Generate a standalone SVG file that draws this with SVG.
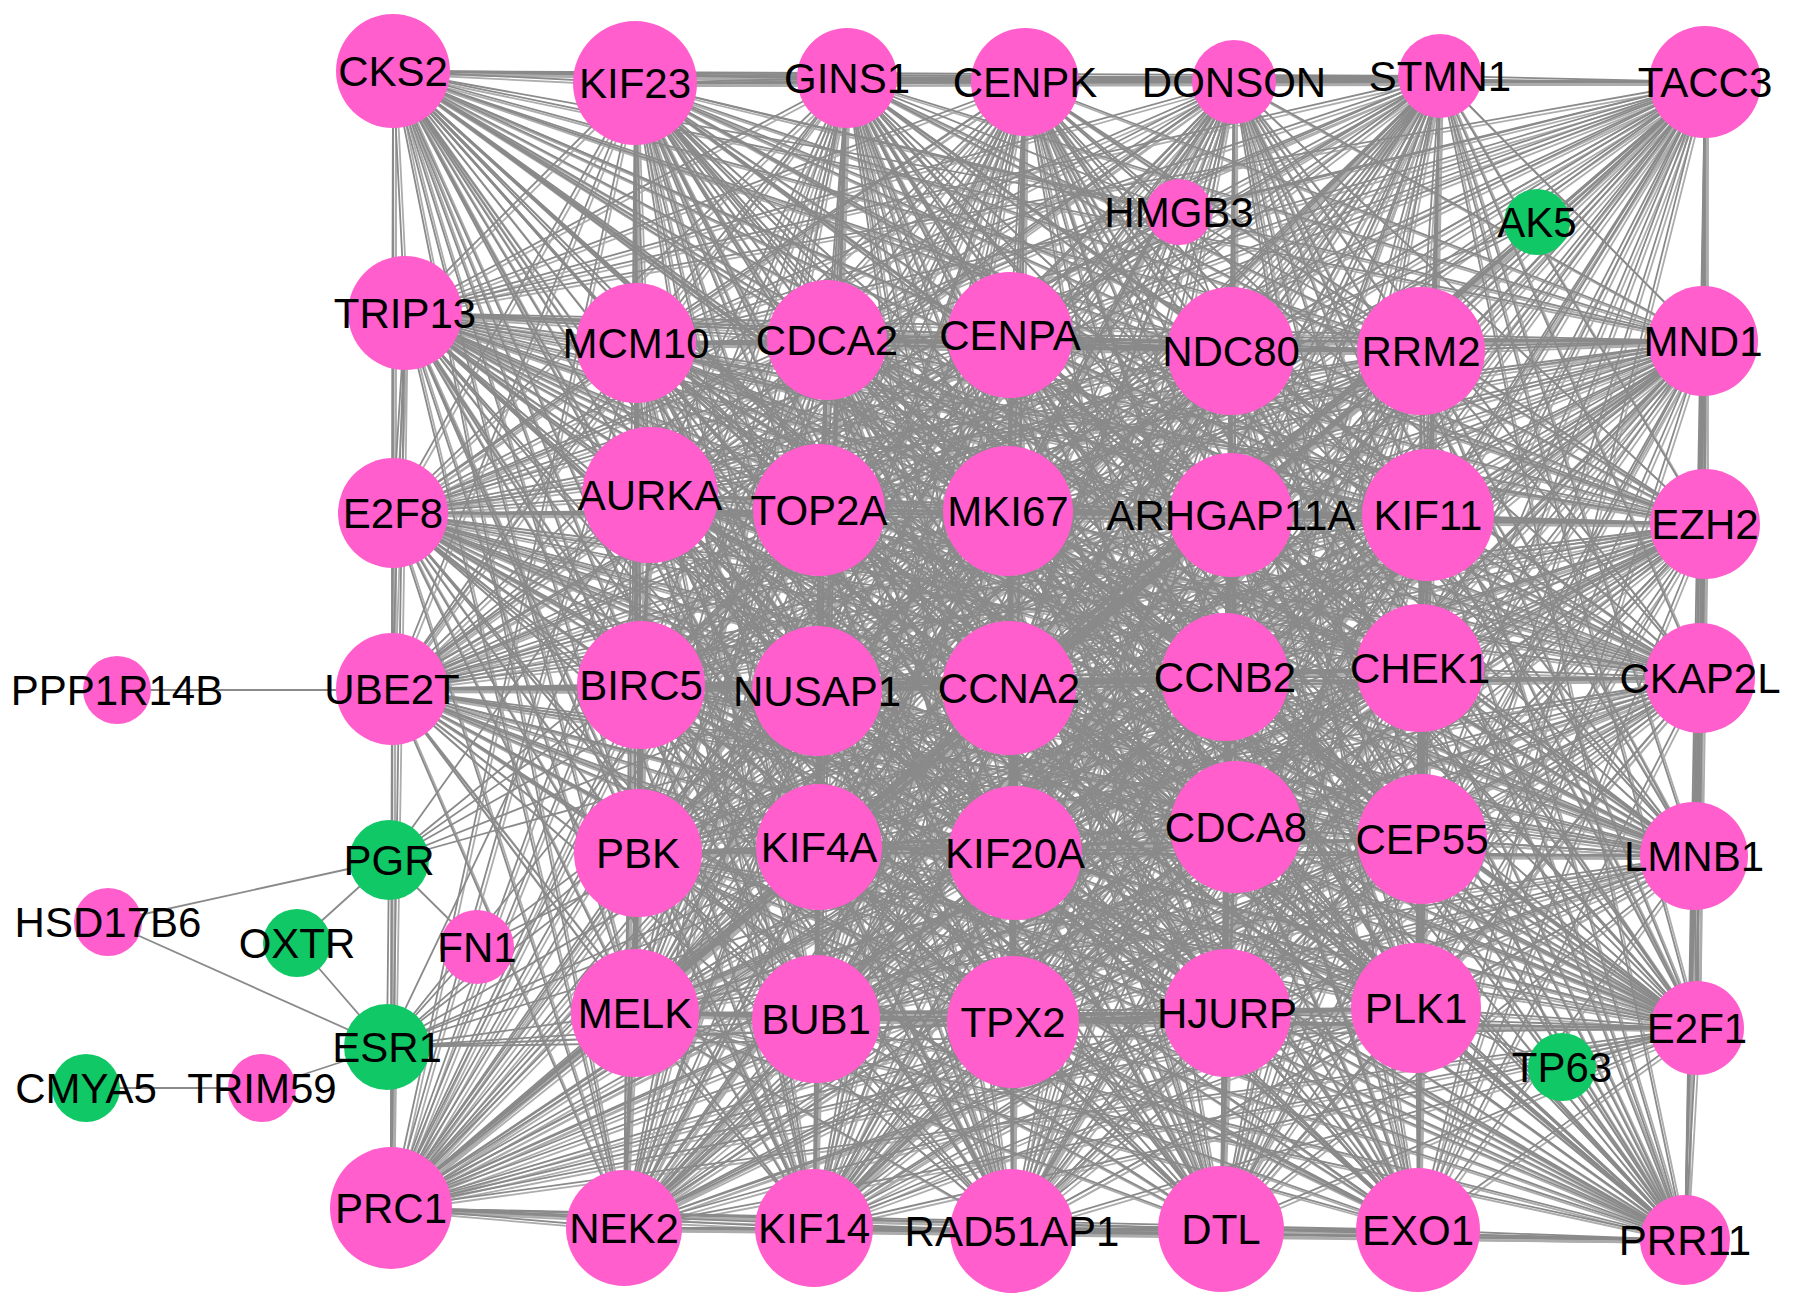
<svg xmlns="http://www.w3.org/2000/svg" width="1795" height="1307" viewBox="0 0 1795 1307">
<style>
.e{fill:none;stroke:#8a8a8a;stroke-width:1.8;stroke-linejoin:round}
.p{fill:#ff5ecc}
.g{fill:#10c866}
text{font-family:"Liberation Sans",Arial,sans-serif;font-size:42px;fill:#000;text-anchor:middle}
</style>
<rect width="1795" height="1307" fill="#fff"/>
<g id="connectors" class="e">
<g id="core-edges">
<path d="M393,71 635,83 847,78 1025,82 1234,82 1440,76 1705,82 405,313 636,343 827,340 1010,335 1231,351 1421,351 1703,341 393,513 650,495 819,510 1008,511 1231,515 1428,515 1705,524 392,689 641,685 817,691 1009,688 1225,677 1420,668 1700,678 638,853 819,847 1015,853 1236,827 1422,839 1694,856 635,1013 816,1019 1013,1022 1227,1013 1416,1008 1697,1028 391,1208 624,1228 814,1228 1012,1231 1221,1229 1418,1230 1685,1240Z"/>
<path d="M393,71 847,78 1234,82 1705,82 636,343 1010,335 1421,351 393,513 819,510 1231,515 1705,524 641,685 1009,688 1420,668 638,853 1015,853 1422,839 635,1013 1013,1022 1416,1008 391,1208 814,1228 1221,1229 1685,1240 635,83 1025,82 1440,76 405,313 827,340 1231,351 1703,341 650,495 1008,511 1428,515 392,689 817,691 1225,677 1700,678 819,847 1236,827 1694,856 816,1019 1227,1013 1697,1028 624,1228 1012,1231 1418,1230Z"/>
<path d="M393,71 1025,82 1705,82 827,340 1421,351 650,495 1231,515 392,689 1009,688 1700,678 1015,853 1694,856 1013,1022 1697,1028 814,1228 1418,1230 635,83 1234,82 405,313 1010,335 1703,341 819,510 1428,515 641,685 1225,677 638,853 1236,827 635,1013 1227,1013 391,1208 1012,1231 1685,1240 847,78 1440,76 636,343 1231,351 393,513 1008,511 1705,524 817,691 1420,668 819,847 1422,839 816,1019 1416,1008 624,1228 1221,1229Z"/>
<path d="M393,71 1234,82 636,343 1421,351 819,510 1705,524 1009,688 638,853 1422,839 1013,1022 391,1208 1221,1229 635,83 1440,76 827,340 1703,341 1008,511 392,689 1225,677 819,847 1694,856 1227,1013 624,1228 1418,1230 847,78 1705,82 1010,335 393,513 1231,515 641,685 1420,668 1015,853 635,1013 1416,1008 814,1228 1685,1240 1025,82 405,313 1231,351 650,495 1428,515 817,691 1700,678 1236,827 816,1019 1697,1028 1012,1231Z"/>
<path d="M393,71 1440,76 1010,335 650,495 1705,524 1225,677 1015,853 816,1019 391,1208 1418,1230 1025,82 636,343 1703,341 1231,515 817,691 638,853 1694,856 1416,1008 1012,1231 635,83 1705,82 1231,351 819,510 392,689 1420,668 1236,827 1013,1022 624,1228 1685,1240 1234,82 827,340 393,513 1428,515 1009,688 819,847 635,1013 1697,1028 1221,1229 847,78 405,313 1421,351 1008,511 641,685 1700,678 1422,839 1227,1013 814,1228Z"/>
<path d="M393,71 1705,82 1421,351 1231,515 1009,688 1015,853 1013,1022 814,1228 635,83 405,313 1703,341 1428,515 1225,677 1236,827 1227,1013 1012,1231 847,78 636,343 393,513 1705,524 1420,668 1422,839 1416,1008 1221,1229 1025,82 827,340 650,495 392,689 1700,678 1694,856 1697,1028 1418,1230 1234,82 1010,335 819,510 641,685 638,853 635,1013 391,1208 1685,1240 1440,76 1231,351 1008,511 817,691 819,847 816,1019 624,1228Z"/>
<path d="M393,71 405,313 393,513 392,689 638,853 816,1019 814,1228 847,78 827,340 819,510 817,691 1015,853 1227,1013 1221,1229 1234,82 1231,351 1231,515 1225,677 1422,839 1697,1028 1685,1240 1705,82 1703,341 1705,524 1700,678 635,1013 624,1228 635,83 636,343 650,495 641,685 819,847 1013,1022 1012,1231 1025,82 1010,335 1008,511 1009,688 1236,827 1416,1008 1418,1230 1440,76 1421,351 1428,515 1420,668 1694,856 391,1208Z"/>
<path d="M393,71 636,343 819,510 1009,688 1422,839 391,1208 635,83 827,340 1008,511 1225,677 1694,856 624,1228 847,78 1010,335 1231,515 1420,668 635,1013 814,1228 1025,82 1231,351 1428,515 1700,678 816,1019 1012,1231 1234,82 1421,351 1705,524 638,853 1013,1022 1221,1229 1440,76 1703,341 392,689 819,847 1227,1013 1418,1230 1705,82 393,513 641,685 1015,853 1416,1008 1685,1240 405,313 650,495 817,691 1236,827 1697,1028Z"/>
<path d="M393,71 827,340 1231,515 1700,678 1013,1022 1418,1230 405,313 819,510 1225,677 635,1013 1012,1231 1440,76 393,513 817,691 1422,839 624,1228 1025,82 1421,351 392,689 1015,853 1697,1028 635,83 1010,335 1428,515 638,853 1227,1013 1685,1240 636,343 1008,511 1420,668 816,1019 1221,1229 1705,82 650,495 1009,688 1694,856 814,1228 1234,82 1703,341 641,685 1236,827 391,1208 847,78 1231,351 1705,524 819,847 1416,1008Z"/>
<path d="M393,71 1010,335 1705,524 1015,853 391,1208 1025,82 1703,341 817,691 1694,856 1012,1231 1705,82 819,510 1420,668 1013,1022 1685,1240 827,340 1428,515 819,847 1697,1028 847,78 1421,351 641,685 1422,839 814,1228 1440,76 650,495 1225,677 816,1019 1418,1230 636,343 1231,515 638,853 1416,1008 635,83 1231,351 392,689 1236,827 624,1228 1234,82 393,513 1009,688 635,1013 1221,1229 405,313 1008,511 1700,678 1227,1013Z"/>
<path d="M393,71 1231,351 641,685 1694,856 1221,1229 636,343 1428,515 1015,853 624,1228 1440,76 819,510 1700,678 1416,1008 847,78 1703,341 1009,688 816,1019 1685,1240 1010,335 392,689 1422,839 1012,1231 405,313 1231,515 819,847 391,1208 1234,82 650,495 1420,668 1227,1013 635,83 1421,351 817,691 635,1013 1418,1230 827,340 1705,524 1236,827 814,1228 1705,82 1008,511 638,853 1697,1028 1025,82 393,513 1225,677 1013,1022Z"/>
<path d="M393,71 1421,351 1009,688 1013,1022 635,83 1703,341 1225,677 1227,1013 847,78 393,513 1420,668 1416,1008 1025,82 650,495 1700,678 1697,1028 1234,82 819,510 638,853 391,1208 1440,76 1008,511 819,847 624,1228 1705,82 1231,515 1015,853 814,1228 405,313 1428,515 1236,827 1012,1231 636,343 1705,524 1422,839 1221,1229 827,340 392,689 1694,856 1418,1230 1010,335 641,685 635,1013 1685,1240 1231,351 817,691 816,1019Z"/>
<path d="M393,71 1703,341 1420,668 1697,1028 1440,76 1231,515 1236,827 1221,1229 1010,335 817,691 1013,1022 847,78 650,495 638,853 624,1228 405,313 1705,524 1694,856 1685,1240 1421,351 1225,677 1416,1008 1234,82 1008,511 1015,853 1012,1231 827,340 641,685 816,1019 635,83 393,513 1700,678 391,1208 1705,82 1428,515 1422,839 1418,1230 1231,351 1009,688 1227,1013 1025,82 819,510 819,847 814,1228 636,343 392,689 635,1013Z"/>
<path d="M393,71 393,513 638,853 814,1228 827,340 817,691 1227,1013 1234,82 1231,515 1422,839 1685,1240 1703,341 1700,678 624,1228 636,343 641,685 1013,1022 1025,82 1008,511 1236,827 1418,1230 1421,351 1420,668 391,1208 405,313 392,689 816,1019 847,78 819,510 1015,853 1221,1229 1231,351 1225,677 1697,1028 1705,82 1705,524 635,1013 635,83 650,495 819,847 1012,1231 1010,335 1009,688 1416,1008 1440,76 1428,515 1694,856Z"/>
<path d="M393,71 650,495 1015,853 1418,1230 1703,341 638,853 1012,1231 1231,351 1420,668 624,1228 827,340 1009,688 1697,1028 405,313 641,685 1227,1013 1440,76 1705,524 816,1019 1025,82 1231,515 1694,856 635,83 819,510 1236,827 1685,1240 393,513 819,847 1221,1229 1421,351 1700,678 814,1228 1010,335 1225,677 391,1208 636,343 817,691 1416,1008 1705,82 392,689 1013,1022 1234,82 1428,515 635,1013 847,78 1008,511 1422,839Z"/>
<path d="M393,71 819,510 1422,839 635,83 1008,511 1694,856 847,78 1231,515 635,1013 1025,82 1428,515 816,1019 1234,82 1705,524 1013,1022 1440,76 392,689 1227,1013 1705,82 641,685 1416,1008 405,313 817,691 1697,1028 636,343 1009,688 391,1208 827,340 1225,677 624,1228 1010,335 1420,668 814,1228 1231,351 1700,678 1012,1231 1421,351 638,853 1221,1229 1703,341 819,847 1418,1230 393,513 1015,853 1685,1240 650,495 1236,827Z"/>
<path d="M393,71 1008,511 635,1013 1234,82 392,689 1416,1008 636,343 1225,677 814,1228 1421,351 819,847 1685,1240 819,510 1694,856 1025,82 1705,524 1227,1013 405,313 1009,688 624,1228 1231,351 638,853 1418,1230 650,495 1422,839 847,78 1428,515 1013,1022 1705,82 817,691 391,1208 1010,335 1700,678 1221,1229 393,513 1236,827 635,83 1231,515 816,1019 1440,76 641,685 1697,1028 827,340 1420,668 1012,1231 1703,341 1015,853Z"/>
<path d="M393,71 1231,515 1013,1022 405,313 1225,677 1012,1231 393,513 1422,839 1025,82 392,689 1697,1028 1010,335 638,853 1685,1240 1008,511 816,1019 1705,82 1009,688 814,1228 1703,341 1236,827 847,78 1705,524 1416,1008 827,340 1700,678 1418,1230 819,510 635,1013 1440,76 817,691 624,1228 1421,351 1015,853 635,83 1428,515 1227,1013 636,343 1420,668 1221,1229 650,495 1694,856 1234,82 641,685 391,1208 1231,351 819,847Z"/>
<path d="M393,71 1428,515 1416,1008 1010,335 819,847 635,83 1705,524 1697,1028 1231,351 1015,853 847,78 392,689 391,1208 1421,351 1236,827 1025,82 641,685 624,1228 1703,341 1422,839 1234,82 817,691 814,1228 393,513 1694,856 1440,76 1009,688 1012,1231 650,495 635,1013 1705,82 1225,677 1221,1229 819,510 816,1019 405,313 1420,668 1418,1230 1008,511 1013,1022 636,343 1700,678 1685,1240 1231,515 1227,1013 827,340 638,853Z"/>
<path d="M393,71 1705,524 391,1208 1703,341 1694,856 1705,82 1420,668 1685,1240 1428,515 1697,1028 1421,351 1422,839 1440,76 1225,677 1418,1230 1231,515 1416,1008 1231,351 1236,827 1234,82 1009,688 1221,1229 1008,511 1227,1013 1010,335 1015,853 1025,82 817,691 1012,1231 819,510 1013,1022 827,340 819,847 847,78 641,685 814,1228 650,495 816,1019 636,343 638,853 635,83 392,689 624,1228 393,513 635,1013 405,313 1700,678Z"/>
<path d="M393,71 392,689 814,1228 819,510 1227,1013 1231,351 1422,839 1705,82 1700,678 635,83 641,685 1012,1231 1008,511 1416,1008 1421,351 1694,856 405,313 638,853 847,78 817,691 1221,1229 1231,515 1697,1028 1703,341 635,1013 636,343 819,847 1025,82 1009,688 1418,1230 1428,515 391,1208 393,513 816,1019 827,340 1015,853 1234,82 1225,677 1685,1240 1705,524 624,1228 650,495 1013,1022 1010,335 1236,827 1440,76 1420,668Z"/>
<path d="M393,71 641,685 1221,1229 1428,515 624,1228 819,510 1416,1008 1703,341 816,1019 1010,335 1422,839 405,313 819,847 1234,82 1420,668 635,83 817,691 1418,1230 1705,524 814,1228 1008,511 1697,1028 393,513 1013,1022 1231,351 1694,856 636,343 1015,853 1440,76 1700,678 847,78 1009,688 1685,1240 392,689 1012,1231 1231,515 391,1208 650,495 1227,1013 1421,351 635,1013 827,340 1236,827 1705,82 638,853 1025,82 1225,677Z"/>
<path d="M393,71 817,691 1685,1240 641,685 1418,1230 392,689 1221,1229 1705,524 1012,1231 1428,515 814,1228 1231,515 624,1228 1008,511 391,1208 819,510 1697,1028 650,495 1416,1008 393,513 1227,1013 1703,341 1013,1022 1421,351 816,1019 1231,351 635,1013 1010,335 1694,856 827,340 1422,839 636,343 1236,827 405,313 1015,853 1705,82 819,847 1440,76 638,853 1234,82 1700,678 1025,82 1420,668 847,78 1225,677 635,83 1009,688Z"/>
</g>
<use href="#core-edges" transform="translate(3,3)" opacity="0.7"/>
<path d="M117,690H392M108,922L389,860M108,922L387,1047M297,943L389,860M297,943L387,1047M389,860L477,947M389,860L387,1047M86,1088H262L387,1047M1562,1067L1697,1028M1562,1067L1416,1008M1562,1067L1420,668M389,860L650,495M389,860L641,685M389,860L819,510M389,860L1009,688M389,860L817,691M389,860L1008,511M477,947L387,1047M477,947L1009,688M477,947L817,691M387,1047L635,1013M387,1047L816,1019M387,1047L1013,1022M387,1047L1009,688M387,1047L819,510M387,1047L650,495M387,1047L638,853M387,1047L1015,853M387,1047L1008,511M387,1047L1416,1008M387,1047L1225,677M387,1047L1697,1028M387,1047L1705,524M1179,212L393,71M1179,212L635,83M1179,212L847,78M1179,212L1025,82M1179,212L819,510M1179,212L1009,688M1179,212L1008,511M1179,212L1231,351M1179,212L1421,351M1179,212L1705,82M1179,212L641,685M1179,212L650,495M1537,222L819,510M1537,222L1009,688M1537,222L641,685M1537,222L635,1013"/>
</g>
<g id="n-CKS2"><circle class="p" cx="393" cy="71" r="57"/><text x="393" y="86">CKS2</text></g>
<g id="n-KIF23"><circle class="p" cx="635" cy="83" r="62"/><text x="635" y="98">KIF23</text></g>
<g id="n-GINS1"><circle class="p" cx="847" cy="78" r="50"/><text x="847" y="93">GINS1</text></g>
<g id="n-CENPK"><circle class="p" cx="1025" cy="82" r="54"/><text x="1025" y="97">CENPK</text></g>
<g id="n-DONSON"><circle class="p" cx="1234" cy="82" r="42"/><text x="1234" y="97">DONSON</text></g>
<g id="n-STMN1"><circle class="p" cx="1440" cy="76" r="42"/><text x="1440" y="91">STMN1</text></g>
<g id="n-TACC3"><circle class="p" cx="1705" cy="82" r="56"/><text x="1705" y="97">TACC3</text></g>
<g id="n-HMGB3"><circle class="p" cx="1179" cy="212" r="33"/><text x="1179" y="227">HMGB3</text></g>
<g id="n-AK5"><circle class="g" cx="1537" cy="222" r="33"/><text x="1537" y="237">AK5</text></g>
<g id="n-TRIP13"><circle class="p" cx="405" cy="313" r="57"/><text x="405" y="328">TRIP13</text></g>
<g id="n-MCM10"><circle class="p" cx="636" cy="343" r="60"/><text x="636" y="358">MCM10</text></g>
<g id="n-CDCA2"><circle class="p" cx="827" cy="340" r="60"/><text x="827" y="355">CDCA2</text></g>
<g id="n-CENPA"><circle class="p" cx="1010" cy="335" r="63"/><text x="1010" y="350">CENPA</text></g>
<g id="n-NDC80"><circle class="p" cx="1231" cy="351" r="64"/><text x="1231" y="366">NDC80</text></g>
<g id="n-RRM2"><circle class="p" cx="1421" cy="351" r="64"/><text x="1421" y="366">RRM2</text></g>
<g id="n-MND1"><circle class="p" cx="1703" cy="341" r="55"/><text x="1703" y="356">MND1</text></g>
<g id="n-E2F8"><circle class="p" cx="393" cy="513" r="55"/><text x="393" y="528">E2F8</text></g>
<g id="n-AURKA"><circle class="p" cx="650" cy="495" r="68"/><text x="650" y="510">AURKA</text></g>
<g id="n-TOP2A"><circle class="p" cx="819" cy="510" r="66"/><text x="819" y="525">TOP2A</text></g>
<g id="n-MKI67"><circle class="p" cx="1008" cy="511" r="65"/><text x="1008" y="526">MKI67</text></g>
<g id="n-ARHGAP11A"><circle class="p" cx="1231" cy="515" r="62"/><text x="1231" y="530">ARHGAP11A</text></g>
<g id="n-KIF11"><circle class="p" cx="1428" cy="515" r="66"/><text x="1428" y="530">KIF11</text></g>
<g id="n-EZH2"><circle class="p" cx="1705" cy="524" r="55"/><text x="1705" y="539">EZH2</text></g>
<g id="n-PPP1R14B"><circle class="p" cx="117" cy="690" r="34"/><text x="117" y="705">PPP1R14B</text></g>
<g id="n-UBE2T"><circle class="p" cx="392" cy="689" r="56"/><text x="392" y="704">UBE2T</text></g>
<g id="n-BIRC5"><circle class="p" cx="641" cy="685" r="64"/><text x="641" y="700">BIRC5</text></g>
<g id="n-NUSAP1"><circle class="p" cx="817" cy="691" r="65"/><text x="817" y="706">NUSAP1</text></g>
<g id="n-CCNA2"><circle class="p" cx="1009" cy="688" r="67"/><text x="1009" y="703">CCNA2</text></g>
<g id="n-CCNB2"><circle class="p" cx="1225" cy="677" r="64"/><text x="1225" y="692">CCNB2</text></g>
<g id="n-CHEK1"><circle class="p" cx="1420" cy="668" r="64"/><text x="1420" y="683">CHEK1</text></g>
<g id="n-CKAP2L"><circle class="p" cx="1700" cy="678" r="55"/><text x="1700" y="693">CKAP2L</text></g>
<g id="n-PGR"><circle class="g" cx="389" cy="860" r="40"/><text x="389" y="875">PGR</text></g>
<g id="n-PBK"><circle class="p" cx="638" cy="853" r="64"/><text x="638" y="868">PBK</text></g>
<g id="n-KIF4A"><circle class="p" cx="819" cy="847" r="63"/><text x="819" y="862">KIF4A</text></g>
<g id="n-KIF20A"><circle class="p" cx="1015" cy="853" r="67"/><text x="1015" y="868">KIF20A</text></g>
<g id="n-CDCA8"><circle class="p" cx="1236" cy="827" r="66"/><text x="1236" y="842">CDCA8</text></g>
<g id="n-CEP55"><circle class="p" cx="1422" cy="839" r="65"/><text x="1422" y="854">CEP55</text></g>
<g id="n-LMNB1"><circle class="p" cx="1694" cy="856" r="54"/><text x="1694" y="871">LMNB1</text></g>
<g id="n-HSD17B6"><circle class="p" cx="108" cy="922" r="34"/><text x="108" y="937">HSD17B6</text></g>
<g id="n-OXTR"><circle class="g" cx="297" cy="943" r="34"/><text x="297" y="958">OXTR</text></g>
<g id="n-FN1"><circle class="p" cx="477" cy="947" r="37"/><text x="477" y="962">FN1</text></g>
<g id="n-MELK"><circle class="p" cx="635" cy="1013" r="64"/><text x="635" y="1028">MELK</text></g>
<g id="n-BUB1"><circle class="p" cx="816" cy="1019" r="64"/><text x="816" y="1034">BUB1</text></g>
<g id="n-TPX2"><circle class="p" cx="1013" cy="1022" r="66"/><text x="1013" y="1037">TPX2</text></g>
<g id="n-HJURP"><circle class="p" cx="1227" cy="1013" r="64"/><text x="1227" y="1028">HJURP</text></g>
<g id="n-PLK1"><circle class="p" cx="1416" cy="1008" r="65"/><text x="1416" y="1023">PLK1</text></g>
<g id="n-E2F1"><circle class="p" cx="1697" cy="1028" r="47"/><text x="1697" y="1043">E2F1</text></g>
<g id="n-ESR1"><circle class="g" cx="387" cy="1047" r="43"/><text x="387" y="1062">ESR1</text></g>
<g id="n-TP63"><circle class="g" cx="1562" cy="1067" r="34"/><text x="1562" y="1082">TP63</text></g>
<g id="n-CMYA5"><circle class="g" cx="86" cy="1088" r="34"/><text x="86" y="1103">CMYA5</text></g>
<g id="n-TRIM59"><circle class="p" cx="262" cy="1088" r="34"/><text x="262" y="1103">TRIM59</text></g>
<g id="n-PRC1"><circle class="p" cx="391" cy="1208" r="61"/><text x="391" y="1223">PRC1</text></g>
<g id="n-NEK2"><circle class="p" cx="624" cy="1228" r="58"/><text x="624" y="1243">NEK2</text></g>
<g id="n-KIF14"><circle class="p" cx="814" cy="1228" r="59"/><text x="814" y="1243">KIF14</text></g>
<g id="n-RAD51AP1"><circle class="p" cx="1012" cy="1231" r="62"/><text x="1012" y="1246">RAD51AP1</text></g>
<g id="n-DTL"><circle class="p" cx="1221" cy="1229" r="63"/><text x="1221" y="1244">DTL</text></g>
<g id="n-EXO1"><circle class="p" cx="1418" cy="1230" r="62"/><text x="1418" y="1245">EXO1</text></g>
<g id="n-PRR11"><circle class="p" cx="1685" cy="1240" r="45"/><text x="1685" y="1255">PRR11</text></g>
</svg>
